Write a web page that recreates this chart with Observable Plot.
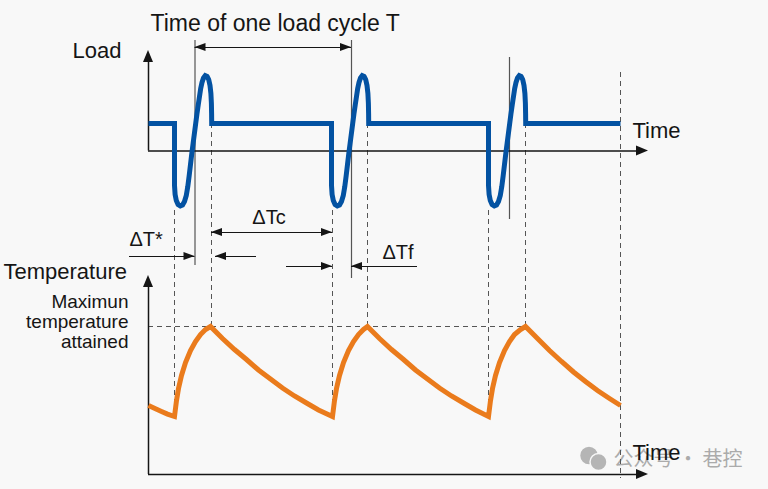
<!DOCTYPE html>
<html>
<head>
<meta charset="utf-8">
<script src="https://cdn.jsdelivr.net/npm/d3@7"></script>
<script src="https://cdn.jsdelivr.net/npm/@observablehq/plot@0.6"></script>
<style>
html, body { margin: 0; padding: 0; background: #f8f8f8; }
#chart svg { display: block; }
</style>
</head>
<body>
<div id="chart"></div>
<script>
// ---------- DATA (schematic coordinates: time → right, level → down) ----------
// Load curve (three load cycles)
const loadTime = [148,
  174,174,174.6,175.8,177.6,179.8,182,184,185.8,187.3,188.7,190,191.3,192.6,193.9,195.2,196.5,197.8,199,200.2,201.5,203,204.8,206.6,208.2,209.5,210.4,210.9,211.1,211.2,
  331,331,331.6,332.8,334.6,336.8,339,341,342.8,344.3,345.7,347,348.3,349.6,350.9,352.2,353.5,354.8,356,357.2,358.5,360,361.8,363.6,365.2,366.5,367.4,367.9,368.1,368.2,
  488,488,488.6,489.8,491.6,493.8,496,498,499.8,501.3,502.7,504,505.3,506.6,507.9,509.2,510.5,511.8,513,514.2,515.5,517,518.8,520.6,522.2,523.5,524.4,524.9,525.1,525.2,
  620];
const loadLevel = [123,
  123,185,194,200,204,205.5,204.5,201,195,186,175,164,153,143,133,123,113,104,96,88,82,77.5,75,75.8,79,85,93,103,113,123,
  123,185,194,200,204,205.5,204.5,201,195,186,175,164,153,143,133,123,113,104,96,88,82,77.5,75,75.8,79,85,93,103,113,123,
  123,185,194,200,204,205.5,204.5,201,195,186,175,164,153,143,133,123,113,104,96,88,82,77.5,75,75.8,79,85,93,103,113,123,
  123];

// Temperature curve
const tempTime = [148,155,161,167,174,
  176,178,181,185,190,195,200,205,210,
  222,234,246,258,270,282,294,306,318,332,
  334,336,339,343,348,353,358,363,367,
  379,391,403,415,427,439,451,463,475,488,
  490,492,495,499,504,509,514,520,525,
  537,549,561,573,585,597,609,620];
const tempLevel = [405,408.3,411,413.6,416,
  400,388,375,362,350,341,334,329,326,
  338,349,359,369.5,378.5,387.5,395.5,402.5,409.5,416,
  400,388,375,362,350,341,334,329,326,
  338,349,359,369.5,378.5,387.5,395.5,402.5,409.5,416,
  400,388,375,362,350,341,334,329,326,
  338,350,361,371.5,381,390,398,405];

// Dashed guide lines
const dashX = [174, 211, 332, 367, 488, 525, 620];
const dashTop = [210, 123, 210, 123, 210, 123, 72];
const dashBottom = [416, 326, 416, 326, 416, 326, 478];
const maxTempLevel = 326, maxTempFrom = 148, maxTempTo = 525;

// Solid thin reference lines
const refX = [194.5, 351, 509];
const refTop = [40, 40, 57];
const refBottom = [265, 278, 219];

// Dimension arrows
const dimX1 = [194.5, 211, 129, 256, 286, 417];
const dimX2 = [351, 332, 194.5, 215, 332, 351];
const dimY = [47, 232, 256, 256, 266, 266];
const dimBoth = [true, true, false, false, false, false];

// Axes
const axisOrigin = 148, axisEnd = 648;
const loadAxisLevel = 150.5, loadAxisTop = 50;
const tempAxisLevel = 474, tempAxisTop = 275;

// Labels
const labelText = ["Time of one load cycle T", "Load", "Time", "Temperature", "ΔT*", "ΔTc", "ΔTf", "Time"];
const labelX = [150, 72, 632, 3, 129, 268.5, 397.5, 632];
const labelY = [30, 57, 137, 278, 245, 223, 258, 459];
const labelSize = [23, 22, 22, 22, 20, 20, 20, 22];
const labelAnchor = ["start", "start", "start", "start", "start", "middle", "middle", "start"];
const noteText = "Maximun\ntemperature\nattained";
const noteX = 128, noteY = 347;

// Watermark
const wmText = "公众号 · 巷控";
const wmX = 613, wmY = 465;
const wmIconX = [588.5, 598], wmIconY = [455, 461.5], wmIconR = [9.5, 8.5];

// ---------- BUILD ----------
const load = loadTime.map((t, i) => ({t, v: loadLevel[i]}));
const temp = tempTime.map((t, i) => ({t, v: tempLevel[i]}));
const dashes = dashX.map((x, i) => ({x, y1: dashTop[i], y2: dashBottom[i]}));
const refs = refX.map((x, i) => ({x, y1: refTop[i], y2: refBottom[i]}));
const dims = dimX1.map((x1, i) => ({x1, x2: dimX2[i], y: dimY[i]}));
const labels = labelText.map((text, i) => ({text, x: labelX[i], y: labelY[i], size: labelSize[i], anchor: labelAnchor[i]}));

const HL = 11, HW = 4;     // dimension arrow head
const AL = 12, AW = 5;     // axis arrow head

// horizontal arrowheads as filled triangles
const hHeads = [];
dims.forEach((d, i) => {
  const dir = Math.sign(d.x2 - d.x1);
  hHeads.push({id: "e" + i, x: d.x2 - dir * HL, y1: d.y - HW, y2: d.y + HW});
  hHeads.push({id: "e" + i, x: d.x2, y1: d.y, y2: d.y});
  if (dimBoth[i]) {
    hHeads.push({id: "s" + i, x: d.x1 + dir * HL, y1: d.y - HW, y2: d.y + HW});
    hHeads.push({id: "s" + i, x: d.x1, y1: d.y, y2: d.y});
  }
});
[loadAxisLevel, tempAxisLevel].forEach((lv, i) => {
  hHeads.push({id: "ax" + i, x: axisEnd - AL, y1: lv - AW, y2: lv + AW});
  hHeads.push({id: "ax" + i, x: axisEnd, y1: lv, y2: lv});
});
const vHeads = [];
[loadAxisTop, tempAxisTop].forEach((top, i) => {
  vHeads.push({id: "ay" + i, y: top + AL, x1: axisOrigin - AW, x2: axisOrigin + AW});
  vHeads.push({id: "ay" + i, y: top, x1: axisOrigin, x2: axisOrigin});
});

const axesV = [
  {x: axisOrigin, y1: loadAxisTop + AL - 1, y2: loadAxisLevel},
  {x: axisOrigin, y1: tempAxisTop + AL - 1, y2: tempAxisLevel}
];
const axesH = [
  {y: loadAxisLevel, x1: axisOrigin, x2: axisEnd - AL + 1},
  {y: tempAxisLevel, x1: axisOrigin, x2: axisEnd - AL + 1}
];

const font = "Liberation Sans, Arial, Helvetica, sans-serif";
const ink = "#151515";

const marks = [
  // watermark
  Plot.dot(wmIconX.map((x, i) => ({x, y: wmIconY[i], r: wmIconR[i]})), {x: "x", y: "y", r: "r", fill: "#b5b5b5", stroke: "#f8f8f8", strokeWidth: 1.5}),
  Plot.text([wmText], {x: wmX, y: wmY, text: d => d, textAnchor: "start", lineAnchor: "bottom", fontSize: 20, fill: "#ababab", fontFamily: "Noto Sans CJK SC, sans-serif"}),
  // guides
  Plot.ruleX(dashes, {x: "x", y1: "y1", y2: "y2", stroke: "#555", strokeWidth: 1, strokeDasharray: "5,4"}),
  Plot.ruleY([maxTempLevel], {y: d => d, x1: maxTempFrom, x2: maxTempTo, stroke: "#555", strokeWidth: 1, strokeDasharray: "5,4"}),
  Plot.ruleX(refs, {x: "x", y1: "y1", y2: "y2", stroke: "#555", strokeWidth: 1.2}),
  // axes
  Plot.ruleX(axesV, {x: "x", y1: "y1", y2: "y2", stroke: ink, strokeWidth: 1.5}),
  Plot.ruleY(axesH, {y: "y", x1: "x1", x2: "x2", stroke: ink, strokeWidth: 1.5}),
  // curves
  Plot.line(temp, {x: "t", y: "v", stroke: "#ea7b1c", strokeWidth: 5, strokeLinejoin: "miter", strokeMiterlimit: 6, strokeLinecap: "butt"}),
  Plot.line(load, {x: "t", y: "v", stroke: "#0352a2", strokeWidth: 5, strokeLinejoin: "miter", strokeMiterlimit: 4, strokeLinecap: "butt"}),
  // dimension arrows
  Plot.ruleY(dims, {y: "y", x1: "x1", x2: "x2", stroke: ink, strokeWidth: 1.2}),
  Plot.areaY(hHeads, {x: "x", y1: "y1", y2: "y2", z: "id", fill: ink, curve: "linear"}),
  Plot.areaX(vHeads, {y: "y", x1: "x1", x2: "x2", z: "id", fill: ink, curve: "linear"}),
  // labels
  Plot.text(labels.filter(d => d.anchor === "start"), {x: "x", y: "y", text: "text", fontSize: d => d.size, textAnchor: "start", lineAnchor: "bottom", fill: ink, fontFamily: font}),
  Plot.text(labels.filter(d => d.anchor === "middle"), {x: "x", y: "y", text: "text", fontSize: d => d.size, textAnchor: "middle", lineAnchor: "bottom", fill: ink, fontFamily: font}),
  Plot.text([noteText], {x: noteX, y: noteY, text: d => d, textAnchor: "end", lineAnchor: "bottom", fontSize: 19, lineHeight: 1.03, fill: ink, fontFamily: font})
];

const chart = Plot.plot({
  width: 768,
  height: 489,
  margin: 0,
  x: {domain: [0, 768], range: [0, 768], axis: null},
  y: {domain: [0, 489], range: [0, 489], axis: null},
  r: {type: "identity"},
  style: {background: "#f8f8f8", fontFamily: font},
  marks
});
document.getElementById("chart").append(chart);
</script>
</body>
</html>
